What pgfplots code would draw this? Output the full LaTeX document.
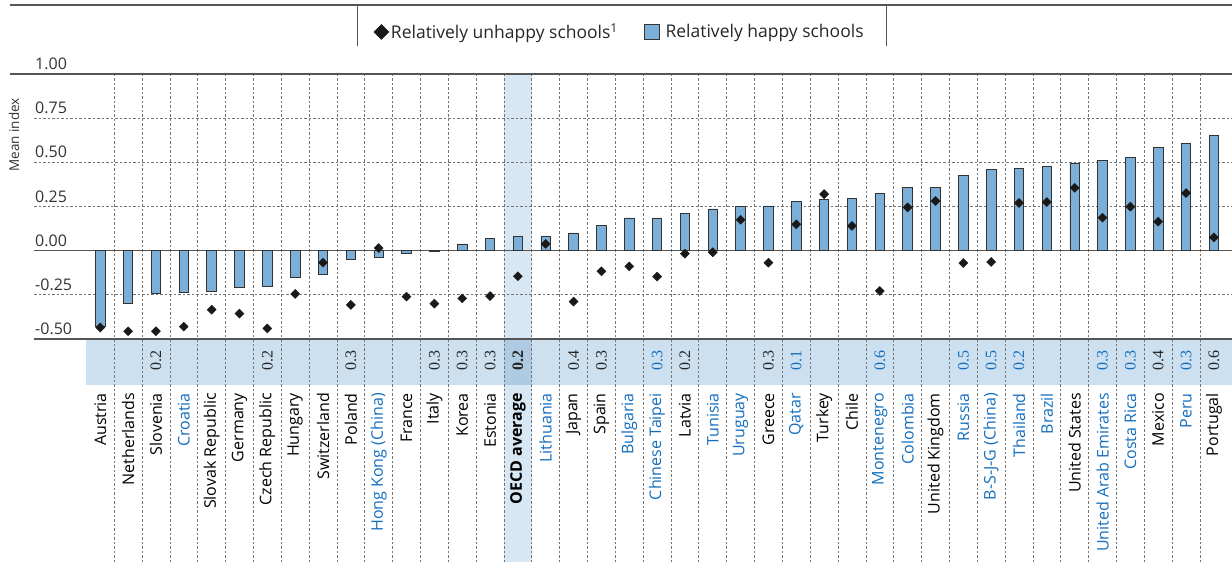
\documentclass[border=0pt]{standalone}
\usepackage{pgfplots}
\pgfplotsset{compat=1.18}
\usepackage{fontspec}
\setmainfont{Open Sans}
\newfontfamily\valfont{Liberation Serif}

\definecolor{barblue}{RGB}{123,175,216}
\definecolor{strip}{RGB}{204,224,240}
\definecolor{hl}{RGB}{215,231,243}
\definecolor{hlstrip}{RGB}{175,203,227}
\definecolor{cblue}{RGB}{20,110,190}
\definecolor{rule}{RGB}{85,85,85}

\newcommand{\bl}[1]{\textcolor{cblue}{#1}}

\begin{document}
\begin{tikzpicture}[x=1pt,y=1pt]
% legend frame
\draw[rule, line width=1.2pt] (10,557) -- (1232,557);
\draw[rule, line width=0.9pt] (357,557) -- (357,516);
\draw[rule, line width=0.9pt] (886,557) -- (886,516);

\begin{axis}[
  at={(34pt,223pt)}, anchor=south west,
  scale only axis, width=1198pt, height=265pt,
  xmin=-2.381, xmax=40.65, ymin=-0.5, ymax=1,
  clip=false, set layers,
  axis line style={draw=none},
  xtick style={draw=none}, ytick style={draw=none},
  ytick={-0.5,-0.25,0,0.25,0.5,0.75,1},
  yticklabels={-0.50,-0.25,0.00,0.25,0.50,0.75,1.00},
  ymajorgrids,
  major grid style={gray!90!black, dash pattern=on 2.5pt off 2pt, line width=0.7pt},
  yticklabel style={anchor=south west, inner sep=0pt, xshift=1pt, yshift=4pt,
    font=\fontsize{16}{16}\selectfont, text=black!80},
  xtick={0,...,40},
  xticklabels={Austria, Netherlands, Slovenia, \bl{Croatia}, Slovak Republic,
    Germany, Czech Republic, Hungary, Switzerland, Poland, \bl{Hong Kong (China)},
    France, Italy, Korea, Estonia, \textbf{OECD average}, \bl{Lithuania}, Japan,
    Spain, \bl{Bulgaria}, \bl{Chinese Taipei}, Latvia, \bl{Tunisia}, \bl{Uruguay},
    Greece, \bl{Qatar}, Turkey, Chile, \bl{Montenegro}, \bl{Colombia},
    United Kingdom, \bl{Russia}, \bl{B-S-J-G (China)}, \bl{Thailand}, \bl{Brazil},
    United States, \bl{United Arab Emirates}, \bl{Costa Rica}, Mexico, \bl{Peru},
    Portugal},
  xticklabel style={yshift=-54pt, rotate=90, anchor=east, inner sep=0pt,
    font=\fontsize{16}{16}\selectfont, text=black},
  ylabel={Mean index},
  every axis y label/.style={at={(axis description cs:-0.0167,0.77)}, rotate=90,
    anchor=center, font=\fontsize{13.5}{13.5}\selectfont, text=black!80},
  legend style={at={(0.489,1.1585)}, anchor=center, draw=none, fill=none,
    legend columns=2, font=\fontsize{17.5}{17.5}\selectfont, text=black!85,
    /tikz/every even column/.append style={column sep=24pt}},
  legend cell align=left,
]
% background: highlight column and strip
\begin{pgfonlayer}{axis background}
\fill[hl] (axis cs:14.5,1) rectangle ([yshift=-223pt]axis cs:15.5,-0.5);
\fill[strip] (axis cs:-0.5,-0.5) rectangle ([yshift=-46pt]axis cs:40.65,-0.5);
\fill[hlstrip] (axis cs:14.5,-0.5) rectangle ([yshift=-46pt]axis cs:15.5,-0.5);
\end{pgfonlayer}
\begin{pgfonlayer}{axis grid}
\pgfplotsinvokeforeach{0,...,39}{
  \draw[gray!90!black, dash pattern=on 2.5pt off 2pt, line width=0.7pt]
    (axis cs:#1.5,1) -- ([yshift=-223pt]axis cs:#1.5,-0.5);
}
\draw[rule, line width=1.2pt] ([xshift=-24pt]rel axis cs:0,1) -- (rel axis cs:1,1);
\draw[rule, line width=1.2pt] (rel axis cs:0,0) -- (rel axis cs:1,0);
\draw[rule, line width=1.2pt] (axis cs:-2.381,0) -- (axis cs:40.65,0);
\end{pgfonlayer}

\addlegendimage{only marks, mark=square*, mark size=5.3pt,
  mark options={rotate=45, fill=black!90, draw=black!90}}
\addlegendentry{Relatively unhappy schools\textsuperscript{1}}
\addlegendimage{legend image code/.code={\draw[fill=barblue, draw=black!80, line width=0.8pt] (0pt,-7.5pt) rectangle (15pt,7.5pt); \path (19pt,0pt);}}
\addlegendentry{Relatively happy schools}

% relatively happy schools
\addplot[ybar, bar width=9.5pt, fill=barblue, draw=black!80, line width=0.8pt, forget plot]
  coordinates {
  (0,-0.430) (1,-0.300) (2,-0.240) (3,-0.235) (4,-0.232) (5,-0.207) (6,-0.200)
  (7,-0.149) (8,-0.134) (9,-0.047) (10,-0.036) (11,-0.013) (12,-0.005) (13,0.038)
  (14,0.068) (15,0.079) (16,0.083) (17,0.100) (18,0.145) (19,0.185) (20,0.185)
  (21,0.209) (22,0.236) (23,0.250) (24,0.253) (25,0.281) (26,0.292) (27,0.298)
  (28,0.326) (29,0.358) (30,0.360) (31,0.426) (32,0.462) (33,0.467) (34,0.479)
  (35,0.496) (36,0.513) (37,0.528) (38,0.586) (39,0.605) (40,0.654)
  };
% relatively unhappy schools
\addplot[only marks, mark=square*, mark size=3.2pt,
  mark options={rotate=45, fill=black!90, draw=black!90}, forget plot]
  coordinates {
  (0,-0.435) (1,-0.456) (2,-0.456) (3,-0.430) (4,-0.334) (5,-0.356) (6,-0.440)
  (7,-0.245) (8,-0.068) (9,-0.307) (10,0.015) (11,-0.260) (12,-0.300) (13,-0.270)
  (14,-0.257) (15,-0.145) (16,0.038) (17,-0.288) (18,-0.117) (19,-0.089) (20,-0.147)
  (21,-0.017) (22,-0.009) (23,0.175) (24,-0.068) (25,0.149) (26,0.320) (27,0.140)
  (28,-0.228) (29,0.245) (30,0.281) (31,-0.070) (32,-0.064) (33,0.270) (34,0.275)
  (35,0.356) (36,0.187) (37,0.249) (38,0.164) (39,0.326) (40,0.075)
  };
% values in the strip
\addplot[only marks, mark=none, point meta=explicit symbolic, nodes near coords,
  every node near coord/.append style={rotate=90, anchor=east, inner sep=0pt,
    font=\valfont\fontsize{16}{16}\selectfont, text=black!85}, forget plot]
  coordinates {
  (2,-0.5623)[0.2] (6,-0.5623)[0.2] (9,-0.5623)[0.3] (12,-0.5623)[0.3]
  (13,-0.5623)[0.3] (14,-0.5623)[0.3] (17,-0.5623)[0.4] (18,-0.5623)[0.3]
  (21,-0.5623)[0.2] (24,-0.5623)[0.3] (38,-0.5623)[0.4] (40,-0.5623)[0.6]
  };
\addplot[only marks, mark=none, point meta=explicit symbolic, nodes near coords,
  every node near coord/.append style={rotate=90, anchor=east, inner sep=0pt,
    font=\valfont\fontsize{16}{16}\selectfont, text=cblue}, forget plot]
  coordinates {
  (20,-0.5623)[0.3] (25,-0.5623)[0.1] (28,-0.5623)[0.6] (31,-0.5623)[0.5]
  (32,-0.5623)[0.5] (33,-0.5623)[0.2] (36,-0.5623)[0.3] (37,-0.5623)[0.3]
  (39,-0.5623)[0.3]
  };
\addplot[only marks, mark=none, point meta=explicit symbolic, nodes near coords,
  every node near coord/.append style={rotate=90, anchor=east, inner sep=0pt,
    font=\valfont\bfseries\fontsize{16}{16}\selectfont, text=black!85}, forget plot]
  coordinates {(15,-0.5623)[0.2]};
\end{axis}
\pgfresetboundingbox
\path[use as bounding box] (0,0) rectangle (1232,562);
\end{tikzpicture}
\end{document}
